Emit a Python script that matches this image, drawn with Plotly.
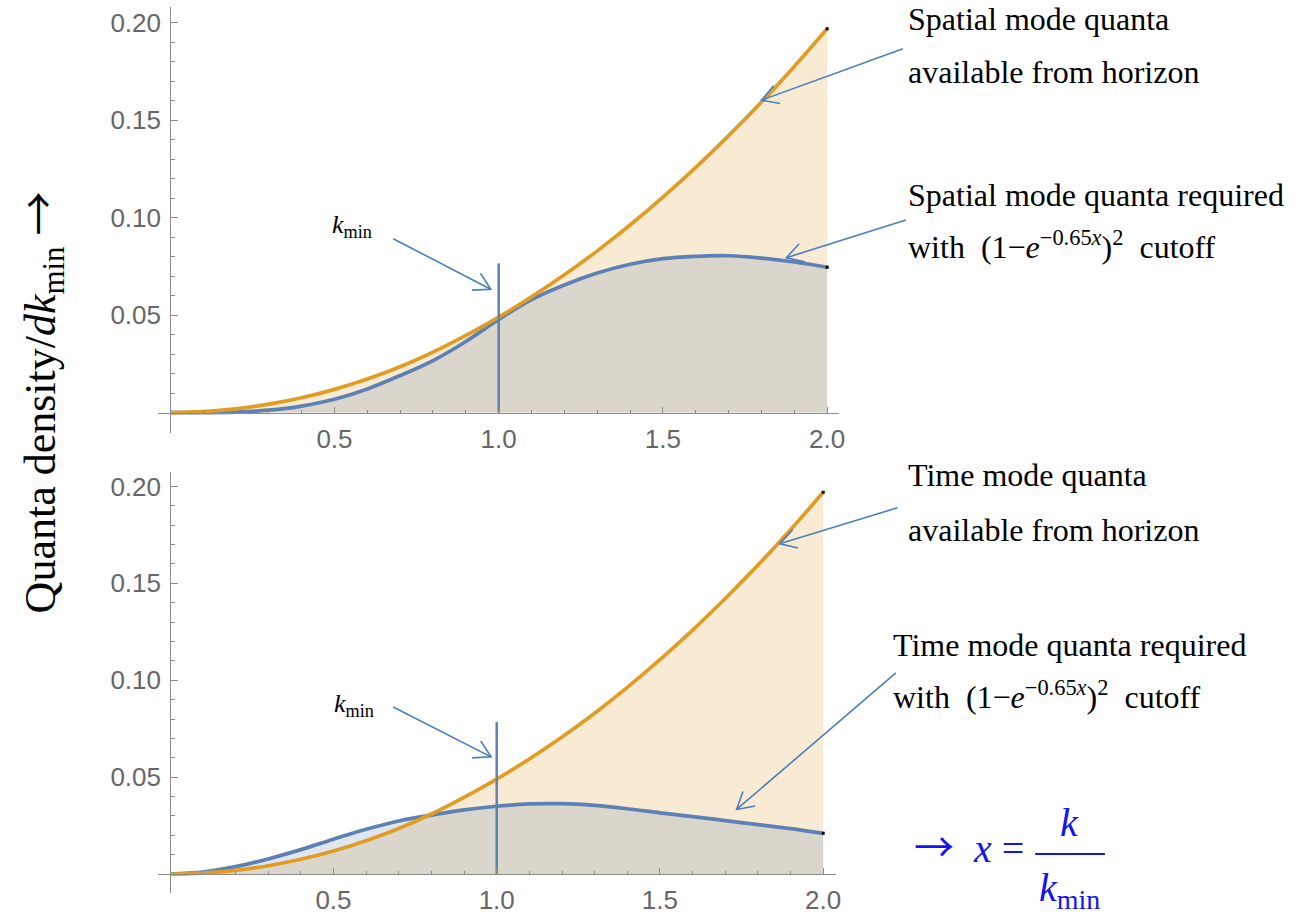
import math
import plotly.graph_objects as go

W, H = 1306, 916

# ---------------- data ----------------
x_vals = [0.0, 0.1, 0.2, 0.3, 0.4, 0.5, 0.6, 0.7, 0.8, 0.9, 1.0,
          1.1, 1.2, 1.3, 1.4, 1.5, 1.6, 1.7, 1.8, 1.9, 2.0]

spatial_available = [0.0, 0.0005, 0.0019, 0.0043, 0.0076, 0.0119, 0.0172, 0.0235, 0.0310, 0.0396, 0.0490,
                     0.0594, 0.0707, 0.0830, 0.0963, 0.1106, 0.1259, 0.1422, 0.1594, 0.1777, 0.1970]
spatial_required = [0.0, 0.0, 0.0002, 0.0012, 0.0033, 0.0068, 0.0121, 0.0190, 0.0267, 0.0365, 0.0478,
                    0.0580, 0.0655, 0.0716, 0.0761, 0.0790, 0.0802, 0.0805, 0.0793, 0.0773, 0.0746]

time_available = [0.0, 0.0005, 0.0019, 0.0043, 0.0076, 0.0119, 0.0172, 0.0235, 0.0310, 0.0396, 0.0490,
                  0.0594, 0.0707, 0.0830, 0.0963, 0.1106, 0.1259, 0.1422, 0.1594, 0.1777, 0.1970]
time_required = [0.0, 0.0010, 0.0038, 0.0078, 0.0126, 0.0180, 0.0231, 0.0274, 0.0304, 0.0331, 0.0350,
                 0.0362, 0.0363, 0.0354, 0.0337, 0.0316, 0.0296, 0.0276, 0.0255, 0.0234, 0.0210]

kmin_x = 1.0
kmin_top_height = 0.0765
kmin_bottom_height = 0.0785

x_tick_vals = [0.5, 1.0, 1.5, 2.0]
x_tick_text = ["0.5", "1.0", "1.5", "2.0"]
x_minor_vals = [0.1, 0.2, 0.3, 0.4, 0.6, 0.7, 0.8, 0.9, 1.1, 1.2, 1.3, 1.4, 1.6, 1.7, 1.8, 1.9]
y_tick_vals = [0.05, 0.10, 0.15, 0.20]
y_tick_text = ["0.05", "0.10", "0.15", "0.20"]
y_minor_vals = [0.01, 0.02, 0.03, 0.04, 0.06, 0.07, 0.08, 0.09, 0.11, 0.12, 0.13, 0.14,
                0.16, 0.17, 0.18, 0.19]

# ---------------- styles ----------------
BLUE = "#5E81B5"
ORANGE = "#E19C24"
BLUE_FILL = "rgba(94,129,181,0.2)"
ORANGE_FILL = "rgba(225,156,36,0.2)"
ARROW = "#4A7EBF"
AX = "#8c8c8c"
LBL = "#666666"
SERIF = "Liberation Serif, Times New Roman, serif"
SANS = "Liberation Sans, Arial, sans-serif"
FORMULA_BLUE = "#1414F0"
ARR = "<span style=\"font-family:'Noto Sans CJK SC'\">→</span>"


def PX(p):
    return p / W


def PY(p):
    return 1 - p / H


fig = go.Figure()


def add_panel(xa, ya, avail, req, kmin_h):
    fig.add_trace(go.Scatter(x=x_vals, y=avail, mode="lines", fill="tozeroy", fillcolor=ORANGE_FILL,
                             line=dict(width=0, shape="spline"), xaxis=xa, yaxis=ya,
                             hoverinfo="skip", showlegend=False))
    fig.add_trace(go.Scatter(x=x_vals, y=req, mode="lines", fill="tozeroy", fillcolor=BLUE_FILL,
                             line=dict(width=0, shape="spline"), xaxis=xa, yaxis=ya,
                             hoverinfo="skip", showlegend=False))
    fig.add_trace(go.Scatter(x=x_vals, y=req, mode="lines",
                             line=dict(width=3.7, color=BLUE, shape="spline"), xaxis=xa, yaxis=ya,
                             showlegend=False))
    fig.add_trace(go.Scatter(x=x_vals, y=avail, mode="lines",
                             line=dict(width=3.7, color=ORANGE, shape="spline"), xaxis=xa, yaxis=ya,
                             showlegend=False))
    fig.add_trace(go.Scatter(x=[x_vals[-1], x_vals[-1]], y=[avail[-1], req[-1]], mode="markers",
                             marker=dict(size=3, color="black", symbol="square"),
                             xaxis=xa, yaxis=ya, showlegend=False))
    fig.add_trace(go.Scatter(x=[kmin_x, kmin_x], y=[0, kmin_h], mode="lines",
                             line=dict(width=2.5, color=BLUE), xaxis=xa, yaxis=ya,
                             showlegend=False))


add_panel("x", "y", spatial_available, spatial_required, kmin_top_height)
add_panel("x2", "y2", time_available, time_required, kmin_bottom_height)


def xaxis_cfg(dom_px, x0_px, px_per_unit, ypos_px):
    return dict(
        domain=[PX(dom_px[0]), PX(dom_px[1])],
        range=[(dom_px[0] - x0_px) / px_per_unit, (dom_px[1] - x0_px) / px_per_unit],
        anchor="free", position=PY(ypos_px),
        showline=True, linecolor=AX, linewidth=1, showgrid=False, zeroline=False,
        ticks="inside", ticklen=6, tickwidth=1, tickcolor=AX,
        tickmode="array", tickvals=x_tick_vals, ticktext=x_tick_text,
        tickfont=dict(family=SANS, size=26, color=LBL),
        minor=dict(tickmode="array", tickvals=x_minor_vals, ticks="inside", ticklen=3,
                   tickwidth=1, tickcolor=AX, showgrid=False),
        ticklabelstandoff=3, fixedrange=True,
    )


def yaxis_cfg(dom_px, y0_px, px_per_unit, xpos_px):
    return dict(
        domain=[PY(dom_px[1]), PY(dom_px[0])],
        range=[(y0_px - dom_px[1]) / px_per_unit, (y0_px - dom_px[0]) / px_per_unit],
        anchor="free", position=PX(xpos_px),
        showline=True, linecolor=AX, linewidth=1, showgrid=False, zeroline=False,
        ticks="inside", ticklen=7, tickwidth=1, tickcolor=AX,
        tickmode="array", tickvals=y_tick_vals, ticktext=y_tick_text,
        tickfont=dict(family=SANS, size=26, color=LBL),
        minor=dict(tickmode="array", tickvals=y_minor_vals, ticks="inside", ticklen=4,
                   tickwidth=1, tickcolor=AX, showgrid=False),
        ticklabelstandoff=4, fixedrange=True,
    )


# ---------------- annotations ----------------
annotations = []


def text_ann(text, left, baseline, size, color="#000000", desc=0.216, xanchor="left"):
    annotations.append(dict(text=text, xref="paper", yref="paper", x=PX(left),
                            y=PY(baseline + desc * size), xanchor=xanchor, yanchor="bottom",
                            showarrow=False, borderpad=0,
                            font=dict(family=SERIF, size=size, color=color)))


CUTOFF = "with  (1−<i>e</i><sup>−0.65<i>x</i></sup>)<sup>2</sup>  cutoff"
text_ann("Spatial mode quanta", 911, 30, 32)
text_ann("available from horizon", 911, 83, 32)
text_ann("Spatial mode quanta required", 911, 206, 32)
text_ann(CUTOFF, 911, 258, 32)
text_ann("Time mode quanta", 911, 487, 32)
text_ann("available from horizon", 911, 542, 32)
text_ann("Time mode quanta required", 896, 657, 32)
text_ann(CUTOFF, 896, 709, 32)
text_ann("<i>k</i><sub>min</sub>", 333, 231, 26, desc=0.45)
text_ann("<i>k</i><sub>min</sub>", 335, 710, 26, desc=0.45)

# formula x = k / k_min
text_ann(ARR + "  <i>x</i> =", 917, 866, 40, color=FORMULA_BLUE)
text_ann("<i>k</i>", 1074, 837, 40, color=FORMULA_BLUE, xanchor="center")
text_ann("<i>k</i><sub>min</sub>", 1043, 898, 40, color=FORMULA_BLUE, desc=0.45)

# y axis title
annotations.append(dict(text="Quanta density/<i>dk</i><sub>min</sub> " + ARR, xref="paper", yref="paper",
                        x=PX(38), y=PY(402), xanchor="center", yanchor="middle", textangle=-90,
                        showarrow=False, borderpad=0,
                        font=dict(family=SERIF, size=44, color="#000000")))

# ---------------- arrows (open heads) ----------------
arrows_px = [
    ((395, 238), (493, 288.5)),
    ((907, 47.7), (765, 99.3)),
    ((910, 219.3), (790, 257)),
    ((395, 706.7), (493.3, 756.7)),
    ((901.7, 507.3), (783.3, 543.3)),
    ((900, 672.7), (740, 809.3)),
]
shapes = []
for (tx, ty), (hx, hy) in arrows_px:
    shapes.append(dict(type="line", xref="paper", yref="paper", x0=PX(tx), y0=PY(ty),
                       x1=PX(hx), y1=PY(hy), line=dict(color=ARROW, width=1.6)))
    ang = math.atan2(ty - hy, tx - hx)
    L = 19
    pts = []
    for s in (+1, -1):
        a = ang + s * math.radians(30)
        pts.append((hx + L * math.cos(a), hy + L * math.sin(a)))
    path = "M {:.5f},{:.5f} L {:.5f},{:.5f} L {:.5f},{:.5f}".format(
        PX(pts[0][0]), PY(pts[0][1]), PX(hx), PY(hy), PX(pts[1][0]), PY(pts[1][1]))
    shapes.append(dict(type="path", xref="paper", yref="paper", path=path,
                       line=dict(color=ARROW, width=1.6)))

# fraction bar
shapes.append(dict(type="line", xref="paper", yref="paper", x0=PX(1040), y0=PY(854),
                   x1=PX(1110), y1=PY(854), line=dict(color=FORMULA_BLUE, width=2)))

fig.update_layout(
    width=W, height=H, margin=dict(l=0, r=0, t=0, b=0),
    paper_bgcolor="white", plot_bgcolor="rgba(0,0,0,0)",
    xaxis=xaxis_cfg((159, 843), 171, 330, 412),
    yaxis=yaxis_cfg((6, 432), 412, 1950, 171),
    xaxis2=xaxis_cfg((159, 840), 171, 328, 874),
    yaxis2=yaxis_cfg((472, 893), 874, 1940, 171),
    annotations=annotations, shapes=shapes, showlegend=False,
)

fig.write_html("out.html", config={"displayModeBar": False},
               post_script="document.body.style.margin='0';")
